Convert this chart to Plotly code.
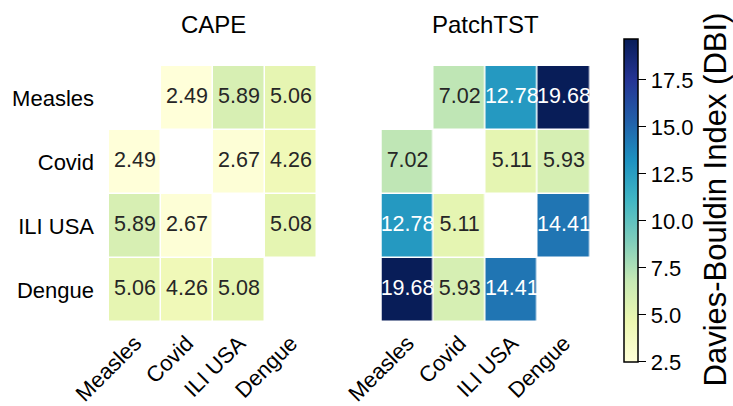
import plotly.graph_objects as go

labels = ["Measles", "Covid", "ILI USA", "Dengue"]
models = ["CAPE", "PatchTST"]

cape = [
    [None, 2.49, 5.89, 5.06],
    [2.49, None, 2.67, 4.26],
    [5.89, 2.67, None, 5.08],
    [5.06, 4.26, 5.08, None],
]
patchtst = [
    [None, 7.02, 12.78, 19.68],
    [7.02, None, 5.11, 5.93],
    [12.78, 5.11, None, 14.41],
    [19.68, 5.93, 14.41, None],
]
cbar_ticks = [2.5, 5.0, 7.5, 10.0, 12.5, 15.0, 17.5]
cbar_title = "Davies-Bouldin Index (DBI)"

W, H = 733, 406
FONT = "Liberation Sans, Arial, sans-serif"
ylgnbu = ["#ffffd9", "#edf8b1", "#c7e9b4", "#7fcdbb", "#41b6c4",
          "#1d91c0", "#225ea8", "#253494", "#081d58"]
colorscale = [[i / 8, c] for i, c in enumerate(ylgnbu)]

allvals = [v for m in (cape, patchtst) for r in m for v in r if v is not None]
zmin, zmax = min(allvals), max(allvals)

fig = go.Figure()
domains_x = [[109 / W, 317 / W], [381.5 / W, 590 / W]]
dom_y = [(H - 322) / H, (H - 66) / H]

for k, (name, mat) in enumerate(zip(models, [cape, patchtst])):
    xa = "x" if k == 0 else "x2"
    ya = "y" if k == 0 else "y2"
    fig.add_trace(go.Heatmap(
        z=mat, x=labels, y=labels, coloraxis="coloraxis",
        xgap=1.5, ygap=1.5, xaxis=xa, yaxis=ya, hoverongaps=False))
    tx, ty, tt, tc = [], [], [], []
    for i, r in enumerate(labels):
        for j, c in enumerate(labels):
            v = mat[i][j]
            if v is None:
                continue
            tx.append(c); ty.append(r); tt.append(f"{v:.2f}")
            tc.append("white" if v > 10 else "#262626")
    fig.add_trace(go.Scatter(
        x=tx, y=ty, text=tt, mode="text", xaxis=xa, yaxis=ya,
        textfont=dict(size=21.5, color=tc, family=FONT),
        hoverinfo="skip", showlegend=False))

axis_common = dict(showgrid=False, zeroline=False, showline=False,
                   automargin=False,
                   tickfont=dict(size=22, color="black", family=FONT))
fig.update_layout(
    width=W, height=H,
    margin=dict(l=0, r=0, t=0, b=0, autoexpand=False),
    paper_bgcolor="white", plot_bgcolor="white",
    font=dict(family=FONT, color="black"),
    showlegend=False,
    xaxis=dict(domain=domains_x[0], anchor="y", tickangle=-45,
               ticklabelstandoff=3, **axis_common),
    yaxis=dict(domain=dom_y, anchor="x", autorange="reversed",
               ticklabelstandoff=14, **axis_common),
    xaxis2=dict(domain=domains_x[1], anchor="y2", tickangle=-45,
                ticklabelstandoff=3, **axis_common),
    yaxis2=dict(domain=dom_y, anchor="x2", autorange="reversed",
                showticklabels=False, **axis_common),
    coloraxis=dict(
        colorscale=colorscale, cmin=zmin, cmax=zmax,
        colorbar=dict(
            x=624 / W, xanchor="left", xpad=0, ypad=0,
            y=(H - 39) / H, yanchor="top",
            lenmode="pixels", len=323,
            thicknessmode="pixels", thickness=14,
            outlinewidth=1.5, outlinecolor="black",
            ticks="outside", ticklen=8, tickwidth=1.3, tickcolor="black",
            tickvals=cbar_ticks, tickformat=".1f", tickprefix="\u2009",
            tickfont=dict(size=22, color="black", family=FONT),
        ),
    ),
)

for k, name in enumerate(models):
    fig.add_annotation(
        text=name, xref="paper", yref="paper",
        x=sum(domains_x[k]) / 2, y=(H - 25) / H,
        xanchor="center", yanchor="middle", showarrow=False,
        font=dict(size=24, color="black", family=FONT))

fig.add_annotation(
    text=cbar_title, xref="paper", yref="paper",
    x=715.5 / W, y=(H - 200) / H, xanchor="center", yanchor="middle",
    textangle=-90, showarrow=False,
    font=dict(size=31, color="black", family=FONT))

fig.write_html("out.html", config={"displayModeBar": False},
               post_script="document.body.style.margin='0';"
                           "document.body.style.overflow='hidden';")
